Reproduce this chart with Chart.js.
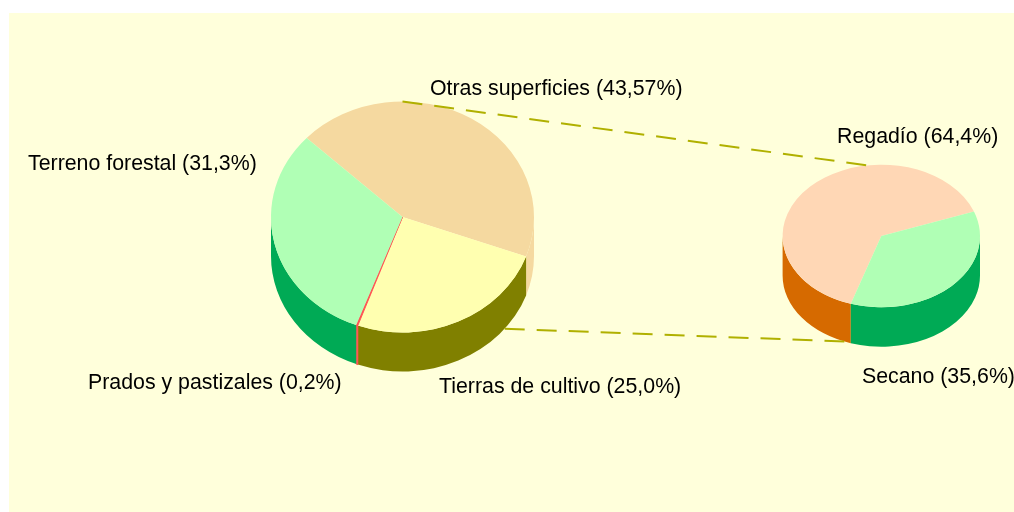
<!DOCTYPE html>
<html lang="es">
<head>
<meta charset="utf-8">
<title>Superficies</title>
<script src="https://cdn.jsdelivr.net/npm/chart.js@4/dist/chart.umd.min.js"></script>
<style>
  html, body { margin: 0; padding: 0; background: #fff; overflow: hidden; }
  #panel { position: absolute; left: 9px; top: 13px; width: 1005px; height: 499px; background: #ffffdb; }
  canvas { position: absolute; left: 0; top: 0; }
</style>
</head>
<body>
<div id="panel"></div>
<canvas id="mainPie" width="1014" height="512"></canvas>
<canvas id="detailPie" width="1014" height="512"></canvas>
<script>
// data
const mainCategories = ['Otras superficies', 'Tierras de cultivo', 'Prados y pastizales', 'Terreno forestal'];
const mainValues = [43.57, 25.0, 0.2, 31.3];
const mainValueText = ['43,57%', '25,0%', '0,2%', '31,3%'];

const detailCategories = ['Regadío', 'Secano'];
const detailValues = [64.4, 35.6];
const detailValueText = ['64,4%', '35,6%'];

// styles
const mainTopColors = ['#f5d9a0', '#ffffb0', '#ff5050', '#b0ffb5'];
const mainSideColors = ['#f5d9a0', '#808000', '#ff5050', '#00aa55'];
const mainBorders = [0, 0, 1, 0]; // the thin slice needs a border to stay visible
const detailTopColors = ['#ffd7b5', '#b0ffb5'];
const detailSideColors = ['#d66a00', '#00aa55'];
const detailBorders = [0, 0];
const LABEL_FONT = '21.33px "Liberation Sans", Arial, sans-serif';
const LINE_COLOR = '#b0b000';

// label anchors: left edge, vertical middle
const mainLabelPos = [[430, 89], [439, 387], [88, 383], [28, 164]];
const detailLabelPos = [[837, 137], [862, 377]];

const W = 1014;
const H = 512;

// Flatten the pie and put a wall under it
const pie3d = {
  id: 'pie3d',
  beforeDatasetsDraw(chart, args, opts) {
    const ctx = chart.ctx;
    const arcs = chart.getDatasetMeta(0).data;
    ctx.save();
    arcs.forEach((arc, i) => {
      const p = arc.getProps(['x', 'y', 'startAngle', 'endAngle', 'outerRadius'], true);
      const ry = p.outerRadius * opts.squash;
      // only the front half of the rim is visible
      [-2 * Math.PI, 0, 2 * Math.PI].forEach(k => {
        const a0 = Math.max(p.startAngle, k);
        const a1 = Math.min(p.endAngle, k + Math.PI);
        if (a0 >= a1) return;
        ctx.beginPath();
        ctx.ellipse(p.x, p.y, p.outerRadius, ry, 0, a0, a1);
        ctx.ellipse(p.x, p.y + opts.depth, p.outerRadius, ry, 0, a1, a0, true);
        ctx.closePath();
        ctx.fillStyle = opts.sideColors[i];
        ctx.fill();
        if (opts.borders[i]) {
          ctx.strokeStyle = opts.sideColors[i];
          ctx.lineWidth = opts.borders[i];
          ctx.stroke();
        }
      });
    });
    ctx.restore();
    const first = arcs[0];
    ctx.save();
    ctx.translate(0, first.y);
    ctx.scale(1, opts.squash);
    ctx.translate(0, -first.y);
  },
  afterDatasetsDraw(chart) {
    chart.ctx.restore();
  },
  afterDraw(chart, args, opts) {
    const ctx = chart.ctx;
    ctx.save();
    ctx.font = LABEL_FONT;
    ctx.fillStyle = '#000';
    ctx.textAlign = 'left';
    ctx.textBaseline = 'middle';
    opts.names.forEach((name, i) => {
      ctx.fillText(name + ' (' + opts.valueText[i] + ')', opts.labelPos[i][0], opts.labelPos[i][1]);
    });
    ctx.restore();
  }
};

function pieChart(id, cx, cy, radius, squash, depth, rotation, names, values, valueText, topColors, sideColors, borders, labelPos) {
  return new Chart(document.getElementById(id), {
    type: 'pie',
    data: {
      labels: names,
      datasets: [{ data: values, backgroundColor: topColors, borderColor: topColors, borderWidth: borders, clip: false }]
    },
    options: {
      responsive: false,
      animation: false,
      rotation: rotation,
      layout: {
        padding: { left: cx - radius, right: W - cx - radius, top: cy - radius, bottom: H - cy - radius }
      },
      plugins: {
        legend: { display: false },
        tooltip: { enabled: false },
        pie3d: { squash, depth, sideColors, borders, names, valueText, labelPos }
      }
    },
    plugins: [pie3d]
  });
}

// radius 132: Chart.js takes half the border width off the pie
const mainChart = pieChart('mainPie', 402.5, 217, 132, 115.5 / 131.5, 39, -46.8,
  mainCategories, mainValues, mainValueText, mainTopColors, mainSideColors, mainBorders, mainLabelPos);

const detailChart = pieChart('detailPie', 881.3, 236, 98.7, 71.3 / 98.7, 39.4, 198,
  detailCategories, detailValues, detailValueText, detailTopColors, detailSideColors, detailBorders, detailLabelPos);

// point on a pie's rim, deg is clockwise from 3 o'clock, level 1 is the bottom rim
function rimPoint(chart, deg, level) {
  const arc = chart.getDatasetMeta(0).data[0];
  const opts = chart.options.plugins.pie3d;
  const a = deg * Math.PI / 180;
  return [
    arc.x + arc.outerRadius * Math.cos(a),
    arc.y + arc.outerRadius * opts.squash * Math.sin(a) + level * opts.depth
  ];
}

// dashed connectors between the two pies, on top of both
const ctx = detailChart.ctx;
[
  [rimPoint(mainChart, -90, 0), rimPoint(detailChart, -98, 0)],
  [rimPoint(mainChart, 39, 1), rimPoint(detailChart, 112, 1)]
].forEach(([from, to]) => {
  ctx.save();
  ctx.strokeStyle = LINE_COLOR;
  ctx.lineWidth = 2;
  ctx.setLineDash([20, 12]);
  ctx.beginPath();
  ctx.moveTo(from[0], from[1]);
  ctx.lineTo(to[0], to[1]);
  ctx.stroke();
  ctx.restore();
});
</script>
</body>
</html>
